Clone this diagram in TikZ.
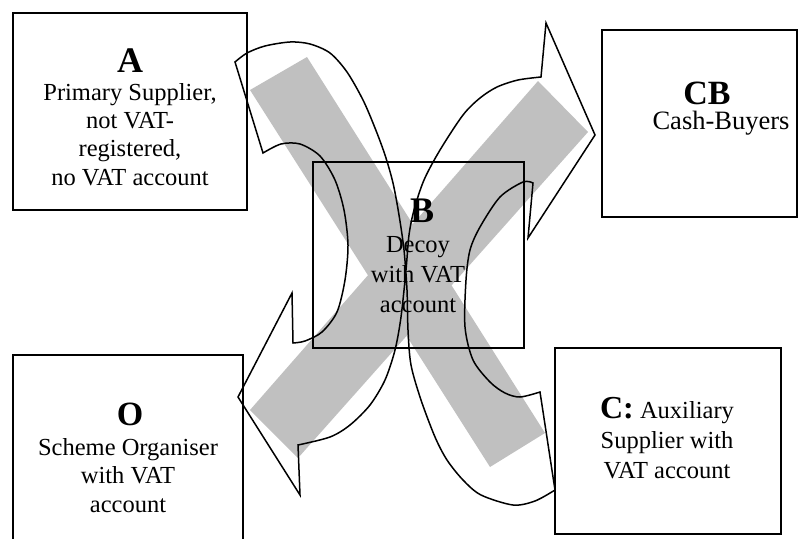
\documentclass[tikz,border=0pt]{standalone}
\usepackage{fontspec}
\setmainfont{Liberation Serif}
\definecolor{bandgray}{RGB}{192,192,192}
\tikzset{
  box/.style={draw, line width=1.7pt, rectangle, inner sep=0pt, outer sep=0pt},
  hdr/.style={font=\bfseries\fontsize{36}{40}\selectfont, anchor=base, inner sep=0pt},
  body/.style={font=\fontsize{24.5}{28.3}\selectfont, align=center, anchor=base, inner sep=0pt},
  band/.style={fill=bandgray, draw=none},
  outline/.style={draw, line width=1.5pt, line join=miter},
}
\begin{document}
\begin{tikzpicture}[x=1pt,y=-1pt]
\useasboundingbox (0,0) rectangle (799,538);
% outer boxes
\node[box, minimum width=234pt, minimum height=197pt] (A) at (130,111.5) {};
\node[box, minimum width=195pt, minimum height=187pt] (CB) at (699.5,123.5) {};
\node[box, minimum width=230pt, minimum height=193pt] (O) at (128,451.5) {};
\node[box, minimum width=226pt, minimum height=186pt] (C) at (668,441) {};
% grey cross
\fill[band] (250,90) -- (307,57) -- (545,433) -- (490,467) -- cycle;
\fill[band] (538,81) -- (588,132) -- (298,458) -- (250,410) -- cycle;
% centre box
\node[box, minimum width=211pt, minimum height=186pt] (B) at (418.5,255) {};
% texts (base anchor = baseline of the last line)
\node[hdr] (Ahdr) at (130,72) {A};
\node[body] (Atxt) at (130,185) {Primary Supplier,\\ not VAT-\\ registered,\\ no VAT account};
\node[hdr, font=\bfseries\fontsize{34}{40}\selectfont] (CBhdr) at (707,104) {CB};
\node[body, font=\fontsize{26.5}{30}\selectfont] (CBtxt) at (721,129) {Cash-Buyers};
\node[hdr] (Bhdr) at (422,222) {B};
\node[body, font=\fontsize{24.5}{30}\selectfont] (Btxt) at (418,312) {Decoy\\ with VAT\\ account};
\node[hdr, font=\bfseries\fontsize{34}{40}\selectfont] (Ohdr) at (130,425) {O};
\node[body, font=\fontsize{24.5}{28.5}\selectfont] (Otxt) at (128,512) {Scheme Organiser\\ with VAT\\ account};
\node[body, font=\fontsize{24.5}{30}\selectfont] (Ctxt) at (667,478) {{\bfseries\fontsize{32}{30}\selectfont C:} Auxiliary\\ Supplier with\\ VAT account};
% curved arrows outline
\draw[outline] (235,62) -- (263,153)
  -- plot[smooth] coordinates {(263,153) (281,144) (300,144) (320,156) (335,180) (344,210) (348,245) (345,280) (337,312) (322,332) (305,341) (293,343)}
  -- (292,293) -- (238,397) -- (300,495) -- (298,445)
  -- plot[smooth] coordinates {(298,445) (330,437) (350,425) (370,405) (385,380) (395,350) (401,317) (406,270) (409,235) (414,210) (424,180) (440,150) (463,115) (480,98) (497,87) (518,80) (541,77)}
  -- (546,23) -- (595,135) -- (528,238) -- (533,183)
  -- plot[smooth] coordinates {(533,183) (523,182) (500,197) (480,227) (470,250) (466,280) (465,327) (473,360) (490,382) (505,393) (520,397) (540,392)}
  -- (555,490)
  -- plot[smooth] coordinates {(555,490) (535,501) (513,505) (481,495) (463,480) (447,460) (435,437) (421,400) (411,365) (408,330) (407,290) (404,250) (399,215) (393,183) (385,155) (375,128) (363,100) (347,72) (330,53) (310,44) (290,42) (265,46) (247,53) (235,62)}
  -- cycle;
\end{tikzpicture}
\end{document}
